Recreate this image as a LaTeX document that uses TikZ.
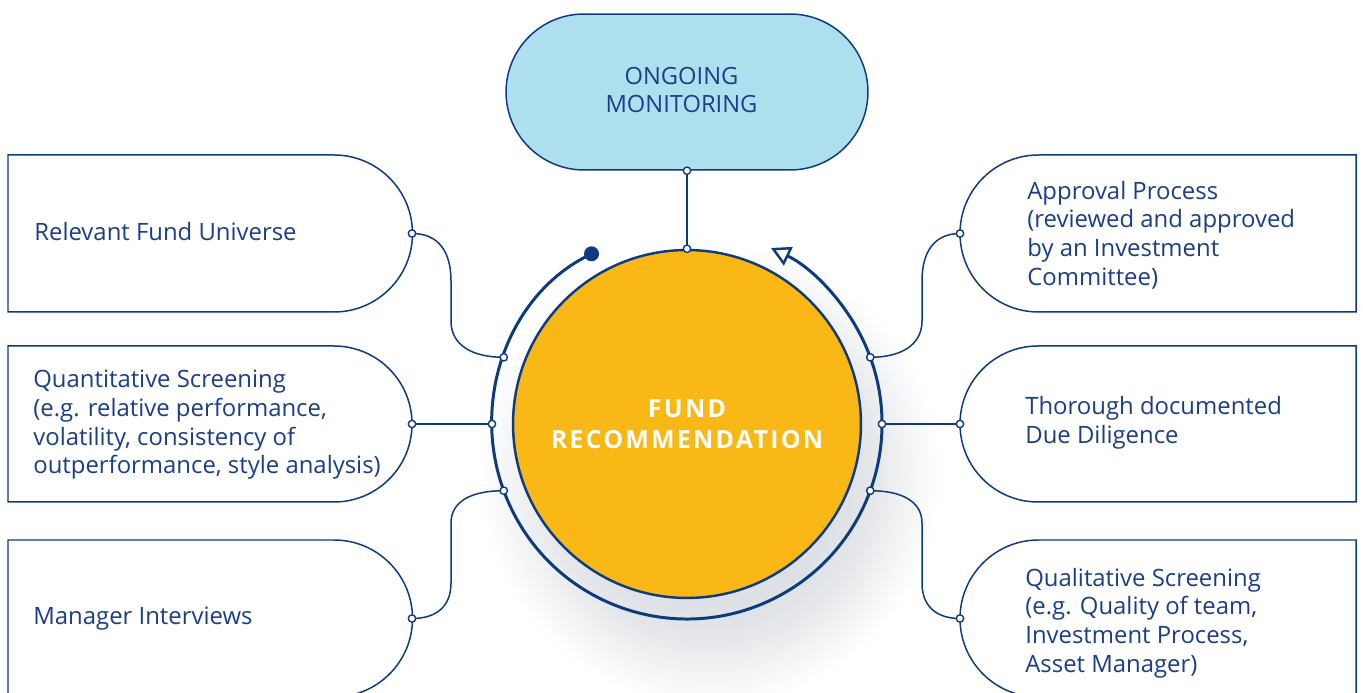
\documentclass[tikz,border=0pt]{standalone}
\usepackage{fontspec}
\setmainfont{Open Sans}
\usetikzlibrary{arrows.meta,shapes.misc}
\definecolor{navy}{HTML}{0E3A80}
\definecolor{txt}{HTML}{1C3E86}
\definecolor{gold}{HTML}{F9B816}
\definecolor{sky}{HTML}{ADDFEF}
\definecolor{shadowc}{HTML}{DDE0E4}
\pgfdeclareradialshading{softshadow}{\pgfpoint{0bp}{0bp}}{color(0bp)=(shadowc); color(14bp)=(shadowc); color(18bp)=(shadowc!75!white); color(21.5bp)=(shadowc!35!white); color(25bp)=(white); color(50bp)=(white)}
\begin{document}
\begin{tikzpicture}[x=0.02cm,y=0.02cm,
 box/.style={draw=navy, line width=0.85pt, fill=white},
 conn/.style={draw=navy, line width=0.85pt},
 ringline/.style={draw=navy, line width=1.7pt},
 pin/.style={circle, draw=navy, fill=white, line width=0.8pt, inner sep=0pt, minimum size=4.2pt},
 lbl/.style={text=txt, font=\fontsize{13.6}{16.3}\selectfont, align=left, anchor=west, inner sep=0pt}]
\useasboundingbox (0,0) rectangle (1363,693);
\clip (0,0) rectangle (1363,693);
\fill[white] (0,0) rectangle (1363,693);
% shadow
\shade[shading=softshadow] (710,218) circle (232);
% centre coordinate
\coordinate (c) at (687,269);
% left boxes
\draw[box] (8,538) -- (334,538) arc[start angle=90,end angle=-90,radius=78.5] -- (8,381) -- cycle;
\draw[box] (8,347) -- (334,347) arc[start angle=90,end angle=-90,radius=78] -- (8,191) -- cycle;
\draw[box] (8,153) -- (334,153) arc[start angle=90,end angle=-90,radius=78.5] -- (8,-4) -- cycle;
% right boxes
\draw[box] (1356,538) -- (1038.5,538) arc[start angle=90,end angle=270,radius=78.5] -- (1356,381) -- cycle;
\draw[box] (1356,347) -- (1038,347) arc[start angle=90,end angle=270,radius=78] -- (1356,191) -- cycle;
\draw[box] (1356,153) -- (1038.5,153) arc[start angle=90,end angle=270,radius=78.5] -- (1356,-4) -- cycle;
% box pins
\coordinate (pl1) at (412,459.5);
\coordinate (pl2) at (412,269);
\coordinate (pl3) at (412,74.5);
\coordinate (pr1) at (960,459.5);
\coordinate (pr2) at (960,269);
\coordinate (pr3) at (960,74.5);
% ring pins
\path (c) ++(160:195) coordinate (rl1);
\path (c) ++(180:195) coordinate (rl2);
\path (c) ++(200:195) coordinate (rl3);
\path (c) ++(20:195) coordinate (rr1);
\path (c) ++(0:195) coordinate (rr2);
\path (c) ++(-20:195) coordinate (rr3);
% connectors
\draw[conn] (pl1) .. controls (438,459.5) and (451,442) .. (451,412) -- (451,372) .. controls (451,348) and (472,335.7) .. (rl1);
\draw[conn] (pl2) -- (rl2);
\draw[conn] (rl3) .. controls (472,202.3) and (451,192) .. (451,170) -- (451,110) .. controls (451,88) and (438,74.5) .. (pl3);
\draw[conn] (rr1) .. controls (901,335.7) and (922,348) .. (922,372) -- (922,412) .. controls (922,442) and (935,459.5) .. (pr1);
\draw[conn] (rr2) -- (pr2);
\draw[conn] (rr3) .. controls (901,202.3) and (922,192) .. (922,170) -- (922,110) .. controls (922,88) and (935,74.5) .. (pr3);
% ongoing monitoring
\node[rounded rectangle, draw=navy, fill=sky, line width=0.85pt, minimum width=7.24cm, minimum height=3.12cm, inner sep=0pt] (mon) at (687,601) {};
\node[text=txt, align=center, inner sep=0pt, font=\fontsize{13.5}{15.9}\selectfont] (montext) at (681.5,603) {ONGOING\\MONITORING};
% ring with arrow
\draw[ringline, {Circle[length=8.5pt]}-{Triangle[open, length=11pt, width=11.5pt, line width=1.4pt]}] (c) ++(117.1:195) arc[start angle=117.1, end angle=424.5, radius=195];
% core
\node[circle, fill=gold, draw=navy, line width=1.4pt, minimum size=6.96cm, inner sep=0pt, text=white, align=center, font=\fontsize{14.2}{17.6}\bfseries\selectfont\addfontfeature{LetterSpace=9}] (core) at (c) {FUND\\RECOMMENDATION};
\draw[conn] (mon.south) -- (core.north);
% pins
\foreach \p in {pl1,pl2,pl3,pr1,pr2,pr3,rl1,rl2,rl3,rr1,rr2,rr3} \node[pin] at (\p) {};
\node[pin] (pm) at (mon.south) {};
\node[pin] (pc) at (core.north) {};
% labels
\node[lbl] (tl1) at (34,461) {Relevant Fund Universe};
\node[lbl] (tl2) at (33,268) {Quantitative Screening\\(e.g. relative performance,\\volatility, consistency of\\outperformance, style analysis)};
\node[lbl] (tl3) at (33,74.5) {Manager Interviews};
\node[lbl] (tr1) at (1027,458) {Approval Process\\(reviewed and approved\\by an Investment\\Committee)};
\node[lbl] (tr2) at (1025,270) {Thorough documented\\Due Diligence};
\node[lbl] (tr3) at (1025,70) {Qualitative Screening\\(e.g. Quality of team,\\Investment Process,\\Asset Manager)};
\end{tikzpicture}
\end{document}
